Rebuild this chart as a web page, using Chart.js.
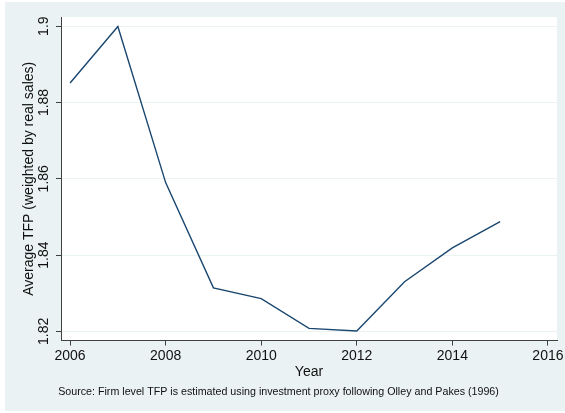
<!DOCTYPE html>
<html>
<head>
<meta charset="utf-8">
<script src="https://cdn.jsdelivr.net/npm/chart.js@4/dist/chart.umd.min.js"></script>
<style>
html,body{margin:0;padding:0;background:#fff}
#wrap{width:565px;height:413px}
</style>
</head>
<body>
<div id="wrap"><canvas id="tfpChart" width="565" height="413"></canvas></div>
<script>
// values
const years=[2006,2007,2008,2009,2010,2011,2012,2013,2014,2015]
const avgTfp=[1.8851,1.8999,1.8590,1.8314,1.8286,1.8208,1.8201,1.8330,1.8419,1.8488]
const yTicks=[1.82,1.84,1.86,1.88,1.9]
const xTicks=[2006,2008,2010,2012,2014,2016]

const bgColor="#eaf2f3"
const axisColor="#404040"

const backdrop={
id:"backdrop",
beforeDraw(chart){
const c=chart.ctx
const a=chart.chartArea
c.save()
c.fillStyle=bgColor
c.fillRect(5,2,560,409)
c.fillStyle="#fff"
c.fillRect(a.left,a.top,a.right-a.left,a.bottom-a.top)
c.restore()
}
}

const ctx=document.getElementById("tfpChart")

new Chart(ctx,{
type:"line",
data:{
datasets:[{
data:years.map((y,i)=>({x:y,y:avgTfp[i]})),
borderColor:"#1a476f",
borderWidth:1.4,
pointRadius:0,
tension:0,
fill:false
}]
},
options:{
responsive:false,
animation:false,
events:[],
layout:{padding:{left:0,top:17,right:8,bottom:10.6}},
plugins:{
legend:{display:false},
tooltip:{enabled:false},
title:{
display:true,
position:"bottom",
text:"Source: Firm level TFP is estimated using investment proxy following Olley and Pakes (1996)",
color:"#111",
font:{family:"Liberation Sans, Arial, sans-serif",size:10.7,weight:"normal"},
padding:{top:5,bottom:4}
}
},
scales:{
x:{
type:"linear",
min:2005.81,
max:2016.19,
afterBuildTicks(s){s.ticks=xTicks.map(v=>({value:v}))},
afterFit(s){s.height=40;s.paddingLeft=0;s.paddingRight=0},
ticks:{
callback:v=>String(v),
color:"#111",
font:{family:"Liberation Sans, Arial, sans-serif",size:14},
padding:2,
maxRotation:0
},
grid:{drawOnChartArea:false,drawTicks:true,tickLength:5,tickColor:axisColor},
border:{color:axisColor,width:1},
title:{
display:true,
text:"Year",
color:"#111",
font:{family:"Liberation Sans, Arial, sans-serif",size:14},
padding:{top:0,bottom:0}
}
},
y:{
min:1.8176,
max:1.9024,
afterBuildTicks(s){s.ticks=yTicks.map(v=>({value:v}))},
afterFit(s){s.width=61},
ticks:{
callback:v=>String(+v.toFixed(2)),
color:"#111",
font:{family:"Liberation Sans, Arial, sans-serif",size:14},
minRotation:90,
maxRotation:90,
crossAlign:"center",
padding:-2
},
grid:{color:bgColor,lineWidth:1,drawTicks:true,tickLength:5,tickColor:axisColor},
border:{color:axisColor,width:1},
title:{
display:true,
text:"Average TFP (weighted by real sales)",
color:"#111",
font:{family:"Liberation Sans, Arial, sans-serif",size:14},
padding:{top:21,bottom:0}
}
}
}
},
plugins:[backdrop]
})
</script>
</body>
</html>
